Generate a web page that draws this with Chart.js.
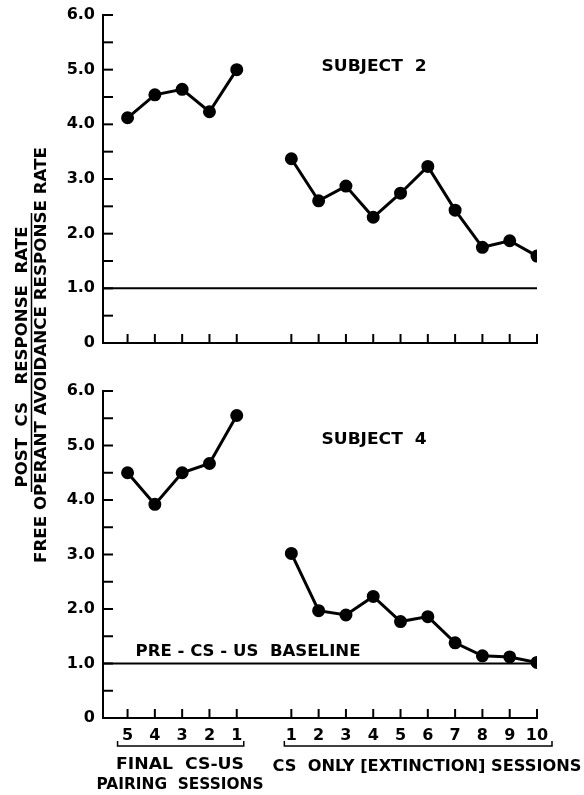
<!DOCTYPE html>
<html>
<head>
<meta charset="utf-8">
<script src="https://cdn.jsdelivr.net/npm/chart.js@4.4.1/dist/chart.umd.min.js"></script>
<style>
    html, body { margin: 0; padding: 0; background: #fff; }
    #wrap { position: relative; width: 584px; height: 795px; }
    #wrap canvas { position: absolute; left: 0; top: 0; }
</style>
</head>
<body>
<div id="wrap">
    <canvas id="subject4Chart" width="584" height="795"></canvas>
    <canvas id="subject2Chart" width="584" height="360"></canvas>
</div>
<script>
const pairingLabels = ['5', '4', '3', '2', '1'];
const extinctionLabels = ['1', '2', '3', '4', '5', '6', '7', '8', '9', '10'];

const subject2Pairing = [4.12, 4.54, 4.64, 4.23, 5.0];
const subject2Extinction = [3.37, 2.6, 2.87, 2.3, 2.74, 3.23, 2.43, 1.75, 1.87, 1.59];

const subject4Pairing = [4.5, 3.92, 4.5, 4.67, 5.55];
const subject4Extinction = [3.02, 1.97, 1.89, 2.23, 1.77, 1.86, 1.38, 1.14, 1.12, 1.02];

const baselineValue = 1.0;
const yMax = 6;

// pairing sessions sit at 0..4, a blank slot, then extinction at 6..15
const extinctionOffset = pairingLabels.length + 1;
const xMin = -0.9;
const xMax = extinctionOffset + extinctionLabels.length - 1;
const tickPositions = pairingLabels.map((_, i) => i)
    .concat(extinctionLabels.map((_, i) => i + extinctionOffset));

const FONT = '"DejaVu Sans", sans-serif';

function toPoints(values, offset) {
    return values.map((v, i) => ({ x: i + offset, y: v }));
}

function fitText(ctx, text, cx, cy, width, size, angle) {
    ctx.save();
    ctx.font = `bold ${size}px ${FONT}`;
    const w = ctx.measureText(text).width;
    ctx.translate(cx, cy);
    if (angle) ctx.rotate(angle);
    ctx.scale(width / w, 1);
    ctx.textAlign = 'center';
    ctx.textBaseline = 'middle';
    ctx.fillStyle = '#000';
    ctx.fillText(text, 0, 0);
    ctx.restore();
}

function line(ctx, x1, y1, x2, y2) {
    ctx.beginPath();
    ctx.moveTo(x1, y1);
    ctx.lineTo(x2, y2);
    ctx.stroke();
}

const decorPlugin = {
    id: 'decor',
    afterDraw(chart, args, opts) {
        const { ctx, chartArea: a, scales: { x, y } } = chart;
        ctx.save();
        ctx.strokeStyle = '#000';
        ctx.lineWidth = 2;
        for (let v = 0; v <= yMax; v += 0.5) {
            const py = y.getPixelForValue(v);
            line(ctx, a.left, py, a.left + 10, py);
        }
        tickPositions.forEach(p => {
            const px = x.getPixelForValue(p);
            line(ctx, px, a.bottom, px, a.bottom - 9);
        });

        fitText(ctx, opts.subject, a.left + 271, y.getPixelForValue(opts.subjectY), 105, 16);

        if (opts.baselineLabel) {
            fitText(ctx, 'PRE - CS - US  BASELINE', a.left + 145, y.getPixelForValue(baselineValue) - 12, 225, 16);
        }

        if (opts.bottomLabels) {
            // brackets under the tick labels
            const by = a.bottom + 28;
            const p0 = x.getPixelForValue(0) - 10;
            const p1 = x.getPixelForValue(pairingLabels.length - 1) + 7;
            const e0 = x.getPixelForValue(extinctionOffset) - 7;
            const e1 = x.getPixelForValue(xMax) + 15;
            ctx.lineWidth = 1.5;
            [[p0, p1], [e0, e1]].forEach(([l, r]) => {
                ctx.beginPath();
                ctx.moveTo(l, by - 5);
                ctx.lineTo(l, by);
                ctx.lineTo(r, by);
                ctx.lineTo(r, by - 5);
                ctx.stroke();
            });
            fitText(ctx, 'FINAL  CS-US', 180, a.bottom + 47, 128, 16);
            fitText(ctx, 'PAIRING  SESSIONS', 180, a.bottom + 67, 167, 16);
            fitText(ctx, 'CS  ONLY [EXTINCTION] SESSIONS', 427, a.bottom + 49, 309, 16);

            // shared y-axis title
            fitText(ctx, 'POST  CS   RESPONSE  RATE', 23, 357, 261, 15, -Math.PI / 2);
            ctx.lineWidth = 1.5;
            line(ctx, 31.5, 213, 31.5, 492);
            fitText(ctx, 'FREE OPERANT AVOIDANCE RESPONSE RATE', 41.5, 355, 416, 16, -Math.PI / 2);
        }
        ctx.restore();
    }
};

function makeChart(canvasId, pairing, extinction, cfg) {
    const seriesStyle = {
        borderColor: '#000',
        backgroundColor: '#000',
        borderWidth: 3,
        pointRadius: 5,
        pointHoverRadius: 5,
        tension: 0
    };
    return new Chart(document.getElementById(canvasId), {
        type: 'line',
        data: {
            datasets: [
                { ...seriesStyle, data: toPoints(pairing, 0) },
                { ...seriesStyle, data: toPoints(extinction, extinctionOffset) },
                {
                    data: [{ x: xMin, y: baselineValue }, { x: xMax, y: baselineValue }],
                    borderColor: '#000',
                    borderWidth: 2,
                    pointRadius: 0
                }
            ]
        },
        options: {
            responsive: false,
            animation: false,
            events: [],
            layout: { padding: { top: cfg.top, right: 47, left: 0, bottom: 0 } },
            plugins: {
                legend: { display: false },
                tooltip: { enabled: false },
                decor: cfg.decor
            },
            scales: {
                x: {
                    type: 'linear',
                    min: xMin,
                    max: xMax,
                    grid: { display: false, drawTicks: false },
                    border: { display: true, color: '#000', width: 2 },
                    afterBuildTicks: s => { s.ticks = tickPositions.map(v => ({ value: v })); },
                    ticks: {
                        display: cfg.showXLabels,
                        autoSkip: false,
                        maxRotation: 0,
                        padding: 8,
                        color: '#000',
                        font: { family: FONT, size: 16, weight: 'bold' },
                        callback: v => v < extinctionOffset
                            ? pairingLabels[v]
                            : extinctionLabels[v - extinctionOffset]
                    },
                    afterFit: s => {
                        s.height = cfg.xHeight;
                        s.paddingLeft = 0;
                        s.paddingRight = 0;
                    }
                },
                y: {
                    min: 0,
                    max: yMax,
                    grid: { display: false, drawTicks: false },
                    border: { display: true, color: '#000', width: 2 },
                    ticks: {
                        stepSize: 0.5,
                        autoSkip: false,
                        padding: 8,
                        color: '#000',
                        font: { family: FONT, size: 16, weight: 'bold' },
                        callback: v => (v % 1 !== 0 ? '' : (v === 0 ? '0' : v.toFixed(1)))
                    },
                    afterFit: s => {
                        s.width = 103;
                        s.paddingTop = 0;
                        s.paddingBottom = 0;
                    }
                }
            }
        },
        plugins: [decorPlugin]
    });
}

makeChart('subject2Chart', subject2Pairing, subject2Extinction, {
    top: 15,
    xHeight: 17,
    showXLabels: false,
    decor: { subject: 'SUBJECT  2', subjectY: 5.05 }
});

makeChart('subject4Chart', subject4Pairing, subject4Extinction, {
    top: 391,
    xHeight: 77,
    showXLabels: true,
    decor: { subject: 'SUBJECT  4', subjectY: 5.1, baselineLabel: true, bottomLabels: true }
});
</script>
</body>
</html>
